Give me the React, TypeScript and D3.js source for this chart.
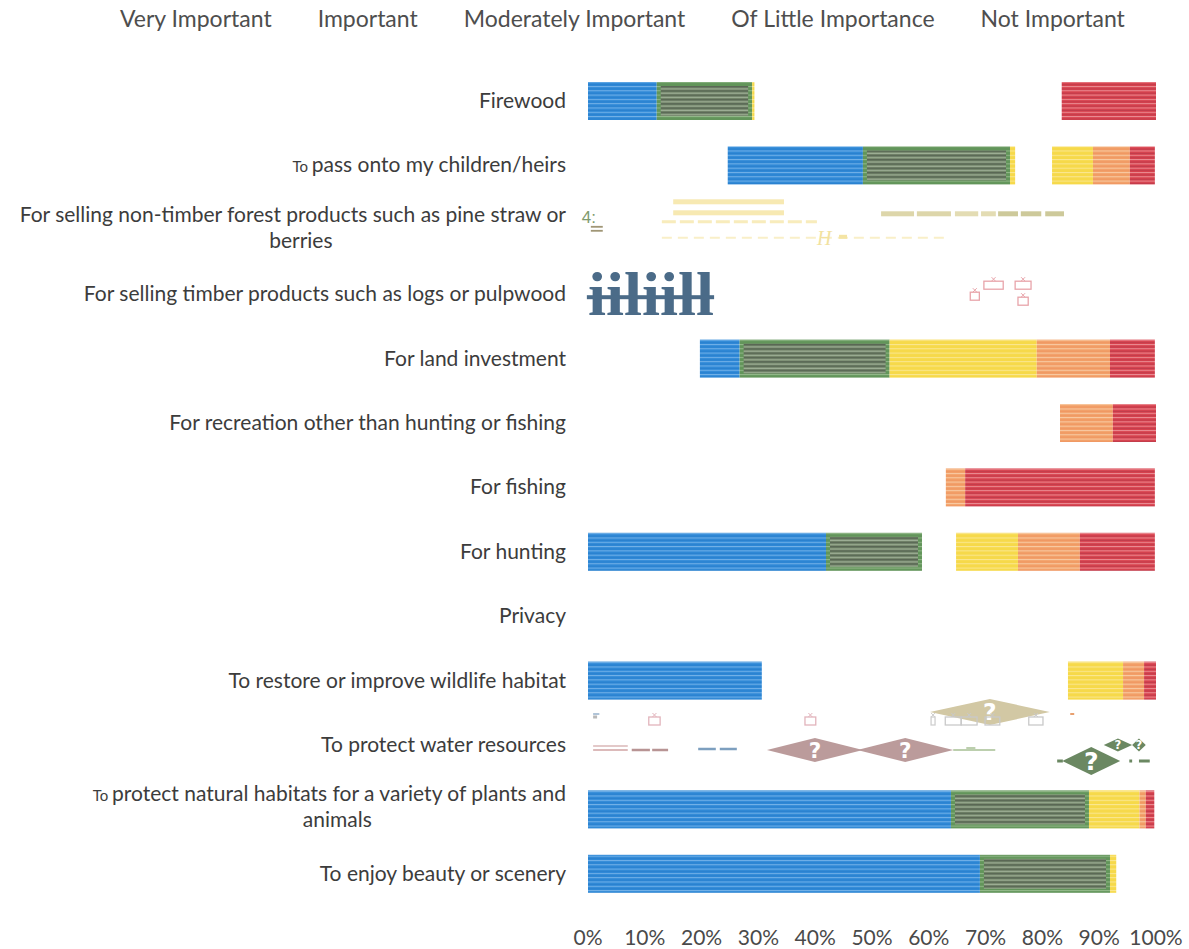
import React, { useEffect, useRef } from "react";
import * as d3 from "d3";

const categories = [
  "Firewood",
  "To pass onto my children/heirs",
  "For selling non-timber forest products such as pine straw or berries",
  "For selling timber products such as logs or pulpwood",
  "For land investment",
  "For recreation other than hunting or fishing",
  "For fishing",
  "For hunting",
  "Privacy",
  "To restore or improve wildlife habitat",
  "To protect water resources",
  "To protect natural habitats for a variety of plants and animals",
  "To enjoy beauty or scenery",
];

// how the category names wrap in the picture
const labelLines: string[][] = [
  ["Firewood"],
  ["To pass onto my children/heirs"],
  ["For selling non-timber forest products such as pine straw or", "berries"],
  ["For selling timber products such as logs or pulpwood"],
  ["For land investment"],
  ["For recreation other than hunting or fishing"],
  ["For fishing"],
  ["For hunting"],
  ["Privacy"],
  ["To restore or improve wildlife habitat"],
  ["To protect water resources"],
  ["To protect natural habitats for a variety of plants and", "animals"],
  ["To enjoy beauty or scenery"],
];
// rows whose leading "To" is printed small
const smallTo = [1, 11];

const seriesNames = [
  "Very Important",
  "Important",
  "Moderately Important",
  "Of Little Importance",
  "Not Important",
];

// percent of respondents (null = row unreadable in the source)
const veryImportant = [12.1, 48.4, null, null, 26.7, 40, 20, 41.9, null, 55, null, 63.9, 69.0];
const important = [16.8, 25.9, null, null, 26.4, 30, 23, 16.9, null, 28, null, 24.3, 22.9];
const moderatelyImportant = [22, 14.6, null, null, 25.9, 13.1, 20, 16.9, null, 11.2, null, 8.9, 4.0];
const ofLittleImportance = [32.5, 6.5, null, null, 12.9, 9.3, 3.4, 10.9, null, 3.7, null, 1.1, 2.5];
const notImportant = [16.6, 4.4, null, null, 7.9, 7.6, 33.4, 13.2, null, 2.1, null, 1.5, 1.6];

// stretches of each bar that are blanked out in the source image (percent)
const erased: [number, number][][] = [
  [[29.3, 83.4]],
  [[0, 24.6], [75.2, 81.7]],
  [],
  [],
  [[0, 19.7]],
  [[0, 83.1]],
  [[0, 63.0]],
  [[58.8, 64.8]],
  [],
  [[30.6, 84.5]],
  [],
  [],
  [[93.0, 100]],
];

const xTicks = [0, 10, 20, 30, 40, 50, 60, 70, 80, 90, 100];

// scan debris visible in the source (x in percent of the axis, dy from row centre)
type Art =
  | { row: number; kind: "bar"; x0: number; x1: number; dy: number; h: number; color: string; dash?: string }
  | { row: number; kind: "box"; x0: number; x1: number; dy: number; h: number; color: string }
  | { row: number; kind: "diamond"; x0: number; x1: number; dy: number; h: number; color: string }
  | { row: number; kind: "text"; x0: number; x1: number; dy: number; h: number; color: string; text: string; font: string; weight?: string; italic?: boolean };

const debris: Art[] = [
  { row: 2, kind: "text", x0: -1.1, x1: -1.1, dy: -7, h: 17, color: "#7f9a6e", text: "4:", font: "Liberation Sans Narrow, Liberation Sans, sans-serif" },
  { row: 2, kind: "bar", x0: 0.5, x1: 2.6, dy: -3, h: 1.8, color: "#a09676" },
  { row: 2, kind: "bar", x0: 0.5, x1: 2.6, dy: 1, h: 1.8, color: "#a09676" },
  { row: 2, kind: "bar", x0: 15.0, x1: 34.5, dy: -28, h: 5, color: "#f7e9b2" },
  { row: 2, kind: "bar", x0: 15.0, x1: 34.5, dy: -17, h: 5, color: "#f7e9b2" },
  { row: 2, kind: "bar", x0: 13.0, x1: 40.3, dy: -8, h: 3, color: "#f8ecbc", dash: "14 4" },
  { row: 2, kind: "bar", x0: 13.0, x1: 63.7, dy: 8, h: 2, color: "#f9efc8", dash: "10 6" },
  { row: 2, kind: "text", x0: 40.3, x1: 40.3, dy: 15, h: 20, color: "#f2e2a0", text: "H", font: "Liberation Serif, serif", italic: true },
  { row: 2, kind: "bar", x0: 44.2, x1: 45.6, dy: 7, h: 4, color: "#f4e4a4" },
  { row: 2, kind: "bar", x0: 51.6, x1: 57.4, dy: -16, h: 5, color: "#ddd6aa" },
  { row: 2, kind: "bar", x0: 57.9, x1: 63.9, dy: -16, h: 5, color: "#ddd6aa" },
  { row: 2, kind: "bar", x0: 64.6, x1: 68.7, dy: -16, h: 5, color: "#e3dcb3" },
  { row: 2, kind: "bar", x0: 69.2, x1: 71.8, dy: -16, h: 5, color: "#e3dcb3" },
  { row: 2, kind: "bar", x0: 72.2, x1: 75.7, dy: -16, h: 5, color: "#cdc99a" },
  { row: 2, kind: "bar", x0: 76.2, x1: 79.8, dy: -16, h: 5, color: "#cdc99a" },
  { row: 2, kind: "bar", x0: 80.5, x1: 83.8, dy: -16, h: 5, color: "#cdc99a" },

  { row: 3, kind: "text", x0: 0, x1: 22.2, dy: 21, h: 62, color: "#4b6b88", text: "iiliill", font: "Liberation Serif, serif", weight: "bold" },
  { row: 3, kind: "bar", x0: -0.2, x1: 22.2, dy: 3, h: 4, color: "#4b6b88" },
  { row: 3, kind: "box", x0: 67.3, x1: 68.9, dy: -2, h: 8, color: "#e8a4aa" },
  { row: 3, kind: "box", x0: 69.7, x1: 73.1, dy: -13, h: 8, color: "#e8a4aa" },
  { row: 3, kind: "box", x0: 75.2, x1: 78.0, dy: -13, h: 8, color: "#e8a4aa" },
  { row: 3, kind: "box", x0: 75.7, x1: 77.5, dy: 3, h: 8, color: "#e8a4aa" },

  { row: 10, kind: "bar", x0: 0.9, x1: 2.0, dy: -31, h: 2, color: "#b0c4d8" },
  { row: 10, kind: "bar", x0: 0.9, x1: 1.6, dy: -28, h: 3, color: "#b8b8b8" },
  { row: 10, kind: "box", x0: 10.7, x1: 12.7, dy: -28, h: 8, color: "#e2b4bc" },
  { row: 10, kind: "box", x0: 38.2, x1: 40.1, dy: -28, h: 8, color: "#e2b4bc" },
  { row: 10, kind: "diamond", x0: 60.2, x1: 81.3, dy: -33, h: 26, color: "#d2c8a4" },
  { row: 10, kind: "box", x0: 60.4, x1: 61.1, dy: -28, h: 8, color: "#cfcfcf" },
  { row: 10, kind: "box", x0: 62.9, x1: 65.7, dy: -28, h: 8, color: "#c9c9c9" },
  { row: 10, kind: "box", x0: 65.7, x1: 68.5, dy: -28, h: 8, color: "#c9c9c9" },
  { row: 10, kind: "box", x0: 69.9, x1: 72.5, dy: -28, h: 8, color: "#c9c9c9" },
  { row: 10, kind: "box", x0: 77.6, x1: 80.1, dy: -28, h: 8, color: "#c9c9c9" },
  { row: 10, kind: "bar", x0: 84.9, x1: 85.6, dy: -31, h: 2, color: "#e8a070" },
  { row: 10, kind: "bar", x0: 0.9, x1: 7.0, dy: 1, h: 1.6, color: "#dcbcbc" },
  { row: 10, kind: "bar", x0: 0.9, x1: 7.0, dy: 5, h: 1.6, color: "#d4aaaa" },
  { row: 10, kind: "bar", x0: 7.7, x1: 10.9, dy: 5, h: 2.5, color: "#b89494" },
  { row: 10, kind: "bar", x0: 11.3, x1: 14.1, dy: 5, h: 2.5, color: "#b89494" },
  { row: 10, kind: "bar", x0: 19.4, x1: 22.5, dy: 4, h: 2.5, color: "#7d9fbf" },
  { row: 10, kind: "bar", x0: 23.2, x1: 26.2, dy: 4, h: 2.5, color: "#7d9fbf" },
  { row: 10, kind: "diamond", x0: 31.5, x1: 48.4, dy: 5, h: 24, color: "#bb9b9b" },
  { row: 10, kind: "diamond", x0: 47.4, x1: 64.3, dy: 5, h: 24, color: "#bb9b9b" },
  { row: 10, kind: "bar", x0: 64.3, x1: 71.7, dy: 5, h: 2, color: "#bccfae" },
  { row: 10, kind: "bar", x0: 66.6, x1: 68.2, dy: 3, h: 2, color: "#bccfae" },
  { row: 10, kind: "diamond", x0: 83.5, x1: 93.7, dy: 16, h: 28, color: "#6b8862" },
  { row: 10, kind: "diamond", x0: 90.8, x1: 95.8, dy: 0, h: 13, color: "#6b8862" },
  { row: 10, kind: "diamond", x0: 95.8, x1: 98.2, dy: 0, h: 13, color: "#6b8862" },
  { row: 10, kind: "bar", x0: 82.6, x1: 83.6, dy: 16, h: 3, color: "#6b8862" },
  { row: 10, kind: "bar", x0: 95.3, x1: 95.8, dy: 16, h: 3, color: "#6b8862" },
  { row: 10, kind: "bar", x0: 97.0, x1: 98.9, dy: 16, h: 3, color: "#6b8862" },
];

const FONT = "Lato, 'Open Sans', sans-serif";

export default function App() {
  const ref = useRef<SVGSVGElement>(null);

  useEffect(() => {
    const svg = d3.select(ref.current as SVGSVGElement);
    svg.selectAll("*").remove();

    const x = d3.scaleLinear().domain([0, 100]).range([588, 1156]);
    const y = d3
      .scaleBand<string>()
      .domain(categories)
      .range([68.8, 906])
      .paddingInner(0.41)
      .paddingOuter(0.205);
    const bw = y.bandwidth();
    const yc = (i: number) => (y(categories[i]) as number) + bw / 2;

    const defs = svg.append("defs");
    const makePattern = (id: string, base: string, stripes: [number, number, string, number][]) => {
      const p = defs
        .append("pattern")
        .attr("id", id)
        .attr("patternUnits", "userSpaceOnUse")
        .attr("width", 8)
        .attr("height", 4.3);
      p.append("rect").attr("width", 8).attr("height", 4.3).attr("fill", base);
      stripes.forEach(([sy, sh, c, o]) =>
        p.append("rect").attr("y", sy).attr("width", 8).attr("height", sh).attr("fill", c).attr("opacity", o)
      );
    };
    makePattern("p0", "#2f89d7", [[0, 1, "#7ab6ea", 0.9], [2.4, 0.8, "#1f74c0", 0.5]]);
    makePattern("p1", "#62955a", [[0, 1, "#9fc096", 0.8]]);
    makePattern("p1in", "#78806f", [[0, 1.3, "#40453e", 0.9], [2.3, 1.1, "#b9bdb2", 0.9]]);
    makePattern("p2", "#f6d94a", [[0, 1, "#fbe99a", 0.9]]);
    makePattern("p3", "#f2a169", [[0, 1, "#f9cfaa", 0.9], [2.4, 0.8, "#ec8c5c", 0.6]]);
    makePattern("p4", "#d8414d", [[0, 1, "#ee9aa1", 0.85], [2.4, 0.9, "#a8384a", 0.55]]);

    const series = [veryImportant, important, moderatelyImportant, ofLittleImportance, notImportant];

    // stack the rows that can be read
    const rows = categories.map((c, i) => {
      const o: any = { cat: c, idx: i };
      seriesNames.forEach((s, k) => (o[s] = series[k][i] ?? 0));
      return o;
    });
    const stacked = d3.stack<any>().keys(seriesNames)(rows);

    const subtract = (a: number, b: number, gaps: [number, number][]) => {
      let pieces: [number, number][] = [[a, b]];
      gaps.forEach(([g0, g1]) => {
        const next: [number, number][] = [];
        pieces.forEach(([p0, p1]) => {
          if (g1 <= p0 || g0 >= p1) next.push([p0, p1]);
          else {
            if (g0 > p0) next.push([p0, g0]);
            if (g1 < p1) next.push([g1, p1]);
          }
        });
        pieces = next;
      });
      return pieces.filter(([p0, p1]) => p1 - p0 > 0.05);
    };

    const gBars = svg.append("g");
    stacked.forEach((layer, k) => {
      layer.forEach((d, i) => {
        if (series[k][i] == null) return;
        const pieces = subtract(d[0], d[1], erased[i]);
        const top = y(categories[i]) as number;
        pieces.forEach(([p0, p1]) => {
          const x0 = x(p0);
          const w = x(p1) - x0;
          gBars
            .append("rect")
            .attr("x", x0)
            .attr("y", top)
            .attr("width", w)
            .attr("height", bw)
            .attr("fill", `url(#p${k})`);
          if (k === 1 && w > 10) {
            gBars
              .append("rect")
              .attr("x", x0 + 4)
              .attr("y", top + 4)
              .attr("width", w - 8)
              .attr("height", bw - 8)
              .attr("fill", "url(#p1in)")
              .attr("opacity", 0.75);
          }
        });
      });
    });

    // debris
    const gArt = svg.append("g");
    debris.forEach((a) => {
      const cy = yc(a.row) + a.dy;
      if (a.kind === "bar") {
        if (a.dash) {
          gArt
            .append("line")
            .attr("x1", x(a.x0))
            .attr("x2", x(a.x1))
            .attr("y1", cy)
            .attr("y2", cy)
            .attr("stroke", a.color)
            .attr("stroke-width", a.h)
            .attr("stroke-dasharray", a.dash);
        } else {
          gArt
            .append("rect")
            .attr("x", x(a.x0))
            .attr("y", cy - a.h / 2)
            .attr("width", x(a.x1) - x(a.x0))
            .attr("height", a.h)
            .attr("fill", a.color);
        }
      } else if (a.kind === "box") {
        const x0 = x(a.x0), x1 = x(a.x1), xm = (x0 + x1) / 2;
        gArt
          .append("rect")
          .attr("x", x0)
          .attr("y", cy)
          .attr("width", x1 - x0)
          .attr("height", a.h)
          .attr("fill", "none")
          .attr("stroke", a.color)
          .attr("stroke-width", 1.3);
        gArt
          .append("path")
          .attr("d", `M${xm - 2},${cy - 4}L${xm + 2},${cy}M${xm + 2},${cy - 4}L${xm - 2},${cy}`)
          .attr("stroke", a.color)
          .attr("stroke-width", 1);
      } else if (a.kind === "diamond") {
        const x0 = x(a.x0), x1 = x(a.x1), xm = (x0 + x1) / 2;
        gArt
          .append("path")
          .attr("d", `M${x0},${cy}L${xm},${cy - a.h / 2}L${x1},${cy}L${xm},${cy + a.h / 2}Z`)
          .attr("fill", a.color);
        gArt
          .append("text")
          .attr("x", xm)
          .attr("y", cy + a.h * 0.32)
          .attr("text-anchor", "middle")
          .attr("font-family", "DejaVu Sans, sans-serif")
          .attr("font-weight", "bold")
          .attr("font-size", a.h * 0.9)
          .attr("fill", "#ffffff")
          .text("?");
      } else if (a.kind === "text") {
        const t = gArt
          .append("text")
          .attr("x", x(a.x0))
          .attr("y", cy)
          .attr("font-family", a.font)
          .attr("font-size", a.h)
          .attr("font-weight", a.weight ?? "normal")
          .attr("font-style", a.italic ? "italic" : "normal")
          .attr("fill", a.color)
          .text(a.text);
        if (a.x1 > a.x0) {
          t.attr("textLength", x(a.x1) - x(a.x0)).attr("lengthAdjust", "spacingAndGlyphs");
        }
      }
    });

    // category labels
    const labelX = 566;
    const gLab = svg.append("g").attr("font-family", FONT).attr("font-size", 21).attr("fill", "#3c3c3c");
    function addLine(t: any, s: string, small: boolean) {
      if (small && s.startsWith("To ")) {
        t.append("tspan").attr("font-size", 15).text("To ");
        t.append("tspan").text(s.slice(3));
      } else t.text(s);
    }
    labelLines.forEach((lines, i) => {
      const c = yc(i);
      if (lines.length === 1) {
        const t = gLab.append("text").attr("x", labelX).attr("y", c + 7).attr("text-anchor", "end");
        addLine(t, lines[0], smallTo.includes(i));
      } else {
        const t1 = gLab.append("text").attr("x", labelX).attr("y", c - 8).attr("text-anchor", "end");
        addLine(t1, lines[0], smallTo.includes(i));
        const w1 = (t1.node() as SVGTextElement).getComputedTextLength();
        gLab
          .append("text")
          .attr("x", labelX - w1 / 2 + 8)
          .attr("y", c + 18)
          .attr("text-anchor", "middle")
          .text(lines[1]);
      }
    });

    // legend (swatches blanked out in the source)
    const gLeg = svg.append("g").attr("font-family", FONT).attr("font-size", 23).attr("fill", "#4e4e4e");
    let lx = 120;
    seriesNames.forEach((s) => {
      const t = gLeg.append("text").attr("x", lx).attr("y", 27).text(s);
      lx += (t.node() as SVGTextElement).getComputedTextLength() + 46;
    });

    // x axis tick labels
    const gAx = svg.append("g").attr("font-family", FONT).attr("font-size", 21).attr("fill", "#4a4a4a");
    gAx
      .selectAll("text")
      .data(xTicks)
      .join("text")
      .attr("x", (d) => x(d))
      .attr("y", 945)
      .attr("text-anchor", "middle")
      .text((d) => `${d}%`);
  }, []);

  return (
    <svg
      ref={ref}
      width={1189}
      height={949}
      style={{ position: "absolute", left: 0, top: 0, background: "#ffffff" }}
    />
  );
}
